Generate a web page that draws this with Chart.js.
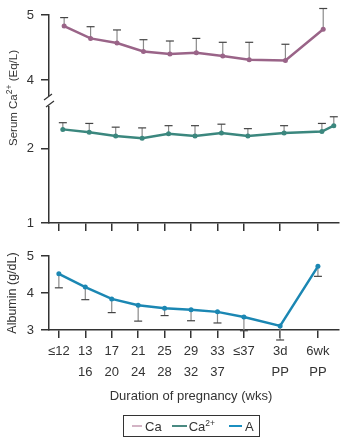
<!DOCTYPE html>
<html>
<head>
<meta charset="utf-8">
<script src="https://cdn.jsdelivr.net/npm/chart.js@4.4.1/dist/chart.umd.min.js"></script>
<style>
  body { margin: 0; background: #fff; }
  #wrap { position: relative; width: 343px; height: 438px; overflow: hidden;
          font-family: "Liberation Sans", Arial, sans-serif; color: #333; }
  #topChart { position: absolute; left: 0; top: 0; }
  #albChart { position: absolute; left: 0; top: 240px; }
  .rot { position: absolute; font-size: 11.5px; white-space: nowrap;
         transform: translate(-50%, -50%) rotate(-90deg); }
  sup { font-size: 8.5px; line-height: 0; }
  #xTitle { position: absolute; left: 191px; top: 395px; font-size: 13px; white-space: nowrap;
            transform: translate(-50%, -50%); }
  #legend { position: absolute; left: 123px; top: 415px; width: 127px; height: 20px;
            border: 1px solid #333; font-size: 13px; display: flex; align-items: center;
            padding-left: 8px; box-sizing: content-box; }
  #legend .ln { display: inline-block; height: 2px; margin-right: 3px; }
  #legend .it { margin-right: 10px; }
</style>
</head>
<body>
<div id="wrap">
  <canvas id="topChart" width="343" height="238"></canvas>
  <canvas id="albChart" width="343" height="170"></canvas>
  <div class="rot" style="left:13px;top:98px;">Serum Ca<sup>2+</sup> (Eq/L)</div>
  <div id="xTitle">Duration of pregnancy (wks)</div>
  <div id="legend">
    <span class="ln" style="width:10px;background:#d3b4c5;"></span><span class="it">Ca</span>
    <span class="ln" style="width:15px;background:#4a8a82;margin-right:2px;"></span><span class="it" style="margin-right:14px;">Ca<sup>2+</sup></span>
    <span class="ln" style="width:13px;background:#1b8fc0;"></span><span>A</span>
  </div>
</div>
<script>
// gestational groups (position on the x axis, 3d/6wk PP are spaced wider)
var slot = [0, 1, 2, 3, 4, 5, 6, 7, 8.37, 9.8];
var weekLabels = [['≤12', ''], ['13', '16'], ['17', '20'], ['21', '24'], ['25', '28'],
                  ['29', '32'], ['33', '37'], ['≤37', ''], ['3d', 'PP'], ['6wk', 'PP']];

// total serum calcium (Eq/L) and upper SD
var caTotal   = [4.83, 4.64, 4.57, 4.44, 4.40, 4.42, 4.37, 4.31, 4.30, 4.78];
var caTotalHi = [4.96, 4.82, 4.77, 4.62, 4.60, 4.64, 4.58, 4.58, 4.55, 5.10];

// ionized calcium (one extra reading after 6wk)
var ionSlot = [0, 1, 2, 3, 4, 5, 6, 7, 8.37, 9.8, 10.25];
var caIon   = [2.26, 2.22, 2.17, 2.14, 2.20, 2.17, 2.21, 2.17, 2.21, 2.23, 2.31];
var caIonHi = [2.35, 2.34, 2.29, 2.28, 2.31, 2.31, 2.33, 2.27, 2.31, 2.34, 2.43];

// albumin (g/dL) and lower SD
var albumin   = [4.52, 4.16, 3.84, 3.67, 3.59, 3.55, 3.49, 3.35, 3.11, 4.72];
var albuminLo = [4.14, 3.82, 3.47, 3.24, 3.39, 3.25, 3.19, 2.98, 2.73, 4.45];

var xMin = -0.373, xMax = 10.597;
var ink = '#333';

Chart.defaults.font.family = '"Liberation Sans", Arial, sans-serif';
Chart.defaults.font.size = 13;
Chart.defaults.color = ink;

function pts(xs, ys, shift) {
  return ys.map(function (v, i) { return { x: xs[i] + shift, y: v }; });
}

var errorBars = {
  id: 'errorBars',
  beforeDatasetsDraw: function (chart) {
    var ctx = chart.ctx;
    chart.data.datasets.forEach(function (ds, di) {
      if (!ds.err) return;
      var meta = chart.getDatasetMeta(di);
      var ys = chart.scales[meta.yAxisID];
      meta.data.forEach(function (p, i) {
        var ye = ys.getPixelForValue(ds.err[i]);
        ctx.save();
        ctx.strokeStyle = '#8a8a8a';
        ctx.lineWidth = 1.2;
        ctx.beginPath(); ctx.moveTo(p.x, p.y); ctx.lineTo(p.x, ye); ctx.stroke();
        ctx.strokeStyle = '#444';
        ctx.beginPath(); ctx.moveTo(p.x - 4, ye); ctx.lineTo(p.x + 4, ye); ctx.stroke();
        ctx.restore();
      });
    });
  }
};

var axisBreak = {
  id: 'axisBreak',
  afterDraw: function (chart) {
    var ctx = chart.ctx;
    var x = chart.chartArea.left;
    var y = chart.scales.yCa.bottom;
    ctx.save();
    ctx.fillStyle = '#fff';
    ctx.fillRect(x - 3, y - 5, 6, 10);
    ctx.strokeStyle = ink;
    ctx.lineWidth = 1.2;
    ctx.beginPath();
    ctx.moveTo(x - 5, y - 1); ctx.lineTo(x + 3, y - 7);
    ctx.moveTo(x - 3, y + 6); ctx.lineTo(x + 5, y);
    ctx.stroke();
    ctx.restore();
  }
};

function yAxis(extra) {
  var base = {
    type: 'linear', position: 'left',
    grid: { drawOnChartArea: false, tickLength: 8, color: ink, lineWidth: 1.5 },
    border: { display: true, color: ink, width: 1.5 },
    ticks: { padding: 7 },
    afterFit: function (s) { s.width = 49; }
  };
  return Object.assign(base, extra);
}

function xAxis(extra) {
  var base = {
    type: 'linear', min: xMin, max: xMax,
    afterBuildTicks: function (s) { s.ticks = slot.map(function (v) { return { value: v }; }); },
    grid: { drawOnChartArea: false, tickLength: 8, color: ink, lineWidth: 1.5 },
    border: { display: true, color: ink, width: 1.5 }
  };
  return Object.assign(base, extra);
}

function line(label, data, color, yId, err) {
  return {
    label: label, data: data, yAxisID: yId, err: err,
    borderColor: color, backgroundColor: color, borderWidth: 2.5,
    pointRadius: 2.5, pointBorderWidth: 0, tension: 0, clip: false
  };
}

new Chart(document.getElementById('topChart'), {
  type: 'line',
  data: {
    datasets: [
      line('Ca', pts(slot, caTotal, 0.2), '#9a6488', 'yCa', caTotalHi),
      line('Ca2+', pts(ionSlot, caIon, 0.15), '#3b877e', 'yIon', caIonHi)
    ]
  },
  options: {
    responsive: false, animation: false,
    layout: { padding: { top: 15, right: 0, bottom: 0, left: 0 } },
    plugins: { legend: { display: false }, tooltip: { enabled: false } },
    scales: {
      x: xAxis({
        ticks: { display: false },
        afterFit: function (s) { s.height = 15; }
      }),
      yCa: yAxis({
        stack: 'serum', stackWeight: 86, weight: 2, min: 3.677, max: 5,
        afterBuildTicks: function (s) { s.ticks = [{ value: 4 }, { value: 5 }]; }
      }),
      yIon: yAxis({
        stack: 'serum', stackWeight: 122, weight: 1, min: 1, max: 2.642,
        afterBuildTicks: function (s) { s.ticks = [{ value: 1 }, { value: 2 }]; }
      })
    }
  },
  plugins: [errorBars, axisBreak]
});

new Chart(document.getElementById('albChart'), {
  type: 'line',
  data: {
    datasets: [
      line('A', pts(slot, albumin, 0), '#1b87b3', 'y', albuminLo)
    ]
  },
  options: {
    responsive: false, animation: false,
    layout: { padding: { top: 16, right: 0, bottom: 0, left: 0 } },
    plugins: { legend: { display: false }, tooltip: { enabled: false } },
    scales: {
      x: xAxis({
        ticks: {
          autoSkip: false, maxRotation: 0, minRotation: 0, padding: 3,
          font: { size: 13, lineHeight: 1.615 },
          callback: function (v, i) { return weekLabels[i]; }
        },
        afterFit: function (s) { s.height = 80; }
      }),
      y: yAxis({
        min: 3, max: 5,
        afterBuildTicks: function (s) { s.ticks = [{ value: 3 }, { value: 4 }, { value: 5 }]; },
        title: { display: true, text: 'Albumin (g/dL)', font: { size: 12.5 }, padding: { top: 5, bottom: 0 } }
      })
    }
  },
  plugins: [errorBars]
});
</script>
</body>
</html>
